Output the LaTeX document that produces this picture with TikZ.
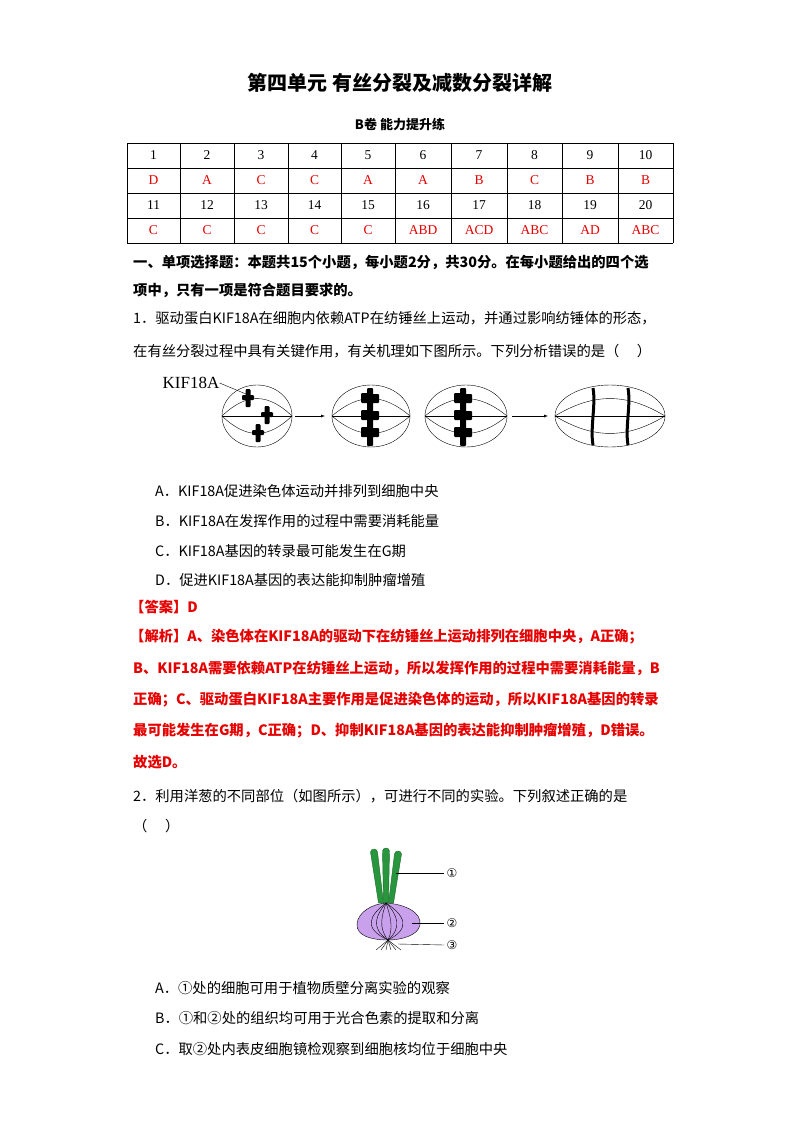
\documentclass[tikz,border=0pt]{standalone}
\usepackage{fontspec}
\setmainfont{Noto Sans CJK SC}
\newfontfamily\latn{Liberation Serif}
\newfontfamily\symb{DejaVu Sans}
\usetikzlibrary{calc}
\definecolor{ansred}{RGB}{230,0,0}
\definecolor{leafgreen}{RGB}{40,150,60}
\definecolor{bulbpurple}{RGB}{200,160,235}
\tikzset{
  txt/.style={anchor=west, inner sep=0pt, font=\fontsize{14.3}{16}\selectfont},
  red txt/.style={txt, text=ansred, font=\fontsize{14.3}{16}\selectfont\bfseries},
  cell txt/.style={inner sep=0pt, font=\latn\fontsize{13.5}{15}\selectfont},
  mark txt/.style={inner sep=0pt, font=\symb\fontsize{12}{14}\selectfont},
  chrom/.style={fill=black, rounded corners=1pt},
}
% spindle: center x, center y, rx, ry
\newcommand\spindle[4]{%
  \draw (#1,#2) ellipse ({#3} and {#4});
  \draw (#1-#3,#2) -- (#1+#3,#2);
  \draw (#1-#3,#2) .. controls (#1-#3*0.3,#2-#4*0.75) and (#1+#3*0.3,#2-#4*0.75) .. (#1+#3,#2);
  \draw (#1-#3,#2) .. controls (#1-#3*0.3,#2+#4*0.75) and (#1+#3*0.3,#2+#4*0.75) .. (#1+#3,#2);
}
\begin{document}
\begin{tikzpicture}[x=1pt,y=-1pt]
\useasboundingbox[fill=white] (0,0) rectangle (800,1132);

% title
\node[inner sep=0pt, font=\fontsize{20}{22}\selectfont\bfseries] (title) at (400,83) {第四单元\ 有丝分裂及减数分裂详解};
\node[inner sep=0pt, font=\fontsize{13}{15}\selectfont\bfseries] (sub) at (400,125) {B卷\ 能力提升练};

% answer table
\foreach \y in {143,168,193,218,243} \draw (127,\y) -- (673,\y);
\foreach \x in {127,180,234,288,341,395,451,507,562,618,673} \draw (\x,143) -- (\x,243);
\foreach \a/\b [count=\i] in {127/180,180/234,234/288,288/341,341/395,395/451,451/507,507/562,562/618,618/673}{
  \pgfmathtruncatemacro\j{\i+10}
  \node[cell txt] (n\i) at ({(\a+\b)/2},155.5) {\i};
  \node[cell txt] (n\j) at ({(\a+\b)/2},205.5) {\j};
}
\foreach \v [count=\i] in {D,A,C,C,A,A,B,C,B,B}
  \node[cell txt, text=ansred] (r\i) at (n\i |- 0,180.5) {\v};
\foreach \v [count=\i from 11] in {C,C,C,C,C,ABD,ACD,ABC,AD,ABC}
  \node[cell txt, text=ansred] (r\i) at (n\i |- 0,230.5) {\v};

% section head
\node[txt, font=\fontsize{14.3}{16}\selectfont\bfseries] (sec1) at (133,262) {一、单项选择题：本题共15个小题，每小题2分，共30分。在每小题给出的四个选};
\node[txt, font=\fontsize{14.3}{16}\selectfont\bfseries] (sec2) at (133,290) {项中，只有一项是符合题目要求的。};

% question 1
\node[txt] (q1a) at (133,318) {1．驱动蛋白KIF18A在细胞内依赖ATP在纺锤丝上运动，并通过影响纺锤体的形态，};
\node[txt] (q1b) at (133,351) {在有丝分裂过程中具有关键作用，有关机理如下图所示。下列分析错误的是（\quad\ ）};

% spindle figure
\node[cell txt, font=\latn\fontsize{17}{18}\selectfont] (kif) at (191,383) {KIF18A};
\spindle{257}{416}{35}{31}
\spindle{371}{416}{39}{31}
\spindle{466}{416}{41}{31}
\spindle{610}{416}{55}{31}
\coordinate (ar1s) at (295,416); \coordinate (ar1e) at (325,416);
\coordinate (ar2s) at (512,416); \coordinate (ar2e) at (548,416);
\draw[-latex] (ar1s) -- (ar1e);
\draw[-latex] (ar2s) -- (ar2e);
% scattered chromosomes
\foreach \cx/\cy in {248/398,267/415,258/433}{
  \fill[chrom] (\cx-2.5,\cy-9) rectangle (\cx+2.5,\cy+9);
  \fill[chrom] (\cx-6,\cy-3) rectangle (\cx+6,\cy+2);
}
\coordinate (kifchr) at (246,394);
\draw (kif.east) -- (kifchr);
% metaphase plates
\foreach \cx in {370,463}{
  \fill[chrom] (\cx-3,388) rectangle (\cx+3,446);
  \foreach \cy in {398,415,432}{
    \fill[chrom] (\cx-9,\cy-5) rectangle (\cx-2,\cy+5);
    \fill[chrom] (\cx+2,\cy-4) rectangle (\cx+9,\cy+5);
  }
}
% anaphase bands
\foreach \cx in {593,628}
  \draw[line width=3pt] (\cx,388) .. controls (\cx+3,405) and (\cx-3,428) .. (\cx,445);

% options 1
\node[txt] (o1a) at (155,491) {A．KIF18A促进染色体运动并排列到细胞中央};
\node[txt] (o1b) at (155,521) {B．KIF18A在发挥作用的过程中需要消耗能量};
\node[txt] (o1c) at (155,551) {C．KIF18A基因的转录最可能发生在G期};
\node[txt] (o1d) at (155,580) {D．促进KIF18A基因的表达能抑制肿瘤增殖};

% answer 1
\node[red txt] (ans1) at (130,607) {【答案】D};
\node[red txt] (ex1a) at (130,637) {【解析】A、染色体在KIF18A的驱动下在纺锤丝上运动排列在细胞中央，A正确；};
\node[red txt] (ex1b) at (133,668) {B、KIF18A需要依赖ATP在纺锤丝上运动，所以发挥作用的过程中需要消耗能量，B};
\node[red txt] (ex1c) at (133,700) {正确；C、驱动蛋白KIF18A主要作用是促进染色体的运动，所以KIF18A基因的转录};
\node[red txt] (ex1d) at (133,731) {最可能发生在G期，C正确；D、抑制KIF18A基因的表达能抑制肿瘤增殖，D错误。};
\node[red txt] (ex1e) at (133,762) {故选D。};

% question 2
\node[txt] (q2a) at (133,796) {2．利用洋葱的不同部位（如图所示），可进行不同的实验。下列叙述正确的是};
\node[txt] (q2b) at (133,826) {（\quad\ ）};

% onion
\foreach \tx/\ty/\bx in {374/848/381,386/847/386,398/850/391}
  \draw[fill=leafgreen, draw=leafgreen!70!black]
    (\bx-2.5,903) -- (\tx-3.5,\ty+4) .. controls (\tx-3,\ty) and (\tx+3,\ty) .. (\tx+3.5,\ty+4) -- (\bx+2.5,903) -- cycle;
\draw[fill=bulbpurple] (386,903) .. controls (404,904) and (422,912) .. (420,925)
  .. controls (418,936) and (400,940) .. (388,940)
  .. controls (372,940) and (356,936) .. (357,924)
  .. controls (358,912) and (372,904) .. (386,903);
\foreach \x/\c in {362/370,370/376,378/382,394/390,402/398,412/404}
  \draw (386,903) .. controls (\c,915) and (\x,928) .. (388,940);
\foreach \rx in {376,381,386,391,396,401}
  \draw (388,940) -- (\rx,950);
\node[mark txt] (lab1) at (452,873) {①};
\node[mark txt] (lab2) at (452,923) {②};
\node[mark txt] (lab3) at (452,945) {③};
\coordinate (leafpt) at (396,873);
\coordinate (bulbpt) at (412,923);
\coordinate (rootpt) at (398,944);
\draw (leafpt) -- ([xshift=-2pt]lab1.west);
\draw (bulbpt) -- ([xshift=-2pt]lab2.west);
\draw (rootpt) -- ([xshift=-2pt]lab3.west);

% options 2
\node[txt] (o2a) at (155,988) {A．①处的细胞可用于植物质壁分离实验的观察};
\node[txt] (o2b) at (155,1018) {B．①和②处的组织均可用于光合色素的提取和分离};
\node[txt] (o2c) at (155,1049) {C．取②处内表皮细胞镜检观察到细胞核均位于细胞中央};
\end{tikzpicture}
\end{document}
